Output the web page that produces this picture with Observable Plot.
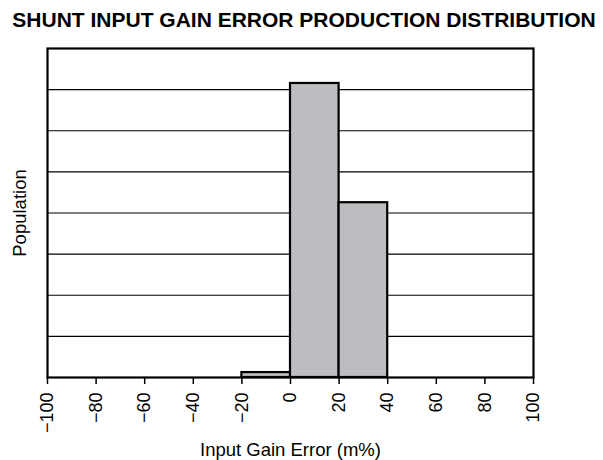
<!DOCTYPE html>
<html>
<head>
<meta charset="utf-8">
<script src="https://cdn.jsdelivr.net/npm/d3@7"></script>
<script src="https://cdn.jsdelivr.net/npm/@observablehq/plot@0.6"></script>
<style>
  html, body { margin: 0; padding: 0; background: #fff; }
  body { width: 603px; height: 460px; overflow: hidden; font-family: "Liberation Sans", Arial, sans-serif; }
  #title { width: 603px; box-sizing: border-box; padding-left: 5px; padding-top: 2px; height: 38px; line-height: 36px;
           text-align: center; font-weight: bold; font-size: 21px; color: #000; white-space: nowrap; }
</style>
</head>
<body>
<div id="title">SHUNT INPUT GAIN ERROR PRODUCTION DISTRIBUTION</div>
<div id="chart"></div>
<script>
const titleText = "SHUNT INPUT GAIN ERROR PRODUCTION DISTRIBUTION";
const xLabel = "Input Gain Error (m%)";
const yLabel = "Population";
const binStart = [-20, 0, 20];
const binEnd = [0, 20, 40];
const population = [0.12, 7.15, 4.25];
const xTicks = [-100, -80, -60, -40, -20, 0, 20, 40, 60, 80, 100];
const gridLines = [1, 2, 3, 4, 5, 6, 7];

document.getElementById("title").textContent = titleText;

const bins = binStart.map((s, i) => ({x1: s, x2: binEnd[i], y: population[i]}));

const chart = Plot.plot({
  width: 603,
  height: 422,
  marginTop: 10,
  marginBottom: 83,
  marginLeft: 47,
  marginRight: 70,
  style: {fontFamily: "Liberation Sans, Arial, sans-serif", fontSize: "18px", color: "#000", background: "#fff"},
  x: {domain: [-100, 100]},
  y: {domain: [0, 8]},
  marks: [
    Plot.ruleY(gridLines, {stroke: "#000", strokeWidth: 1.2}),
    Plot.rectY(bins, {x1: "x1", x2: "x2", y: "y", fill: "#bcbdc0", stroke: "#000", strokeWidth: 2.2, inset: 0}),
    Plot.frame({stroke: "#000", strokeWidth: 2.2}),
    Plot.axisX(xTicks, {tickRotate: -90, tickSize: 7, tickPadding: 8, label: null, fontSize: 18, stroke: "#000", strokeWidth: 1.5}),
    Plot.axisY({ticks: [], label: null}),
    Plot.text([xLabel], {frameAnchor: "bottom", lineAnchor: "bottom", dy: 78, fontSize: 18.5, fill: "#000"}),
    Plot.text([yLabel], {frameAnchor: "left", textAnchor: "middle", lineAnchor: "bottom", rotate: -90, dx: -22, fontSize: 18.5, fill: "#000"})
  ]
});
document.getElementById("chart").appendChild(chart);
</script>
</body>
</html>
